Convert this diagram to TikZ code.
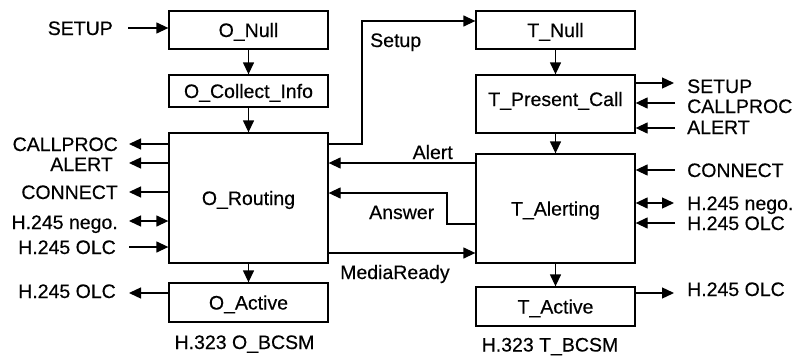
\documentclass[tikz,border=0pt]{standalone}
\usepackage{fontspec}
\setmainfont[FakeBold=0.4,AutoFakeBold=0]{Liberation Sans}
\usetikzlibrary{arrows.meta}
\begin{document}
\begin{tikzpicture}[x=1pt,y=-1pt,
  txt/.style={font=\fontsize{19.5}{22}\selectfont, inner sep=0pt, text height=14pt, text depth=0pt},
  box/.style={draw, line width=1.3pt, txt, minimum width=159pt},
  tip/.tip={Triangle[length=12pt,width=11pt]},
  wire/.style={line width=1.3pt},
  arr/.style={wire, -tip},
  dbl/.style={wire, tip-tip}]
\useasboundingbox[fill=white] (0,0) rectangle (795,356);

% originating side states
\node[box, minimum height=38pt] (onull) at (248.5,30) {O\_Null};
\node[box, minimum height=32pt] (ocoll) at (248.5,91) {O\_Collect\_Info};
\node[box, minimum height=130pt] (orout) at (248.5,198) {O\_Routing};
\node[box, minimum height=39pt] (oact) at (248.5,302.5) {O\_Active};
\node[txt] (ocap) at (244.5,342) {H.323 O\_BCSM};

% terminating side states
\node[box, minimum height=38pt] (tnull) at (555.5,30) {T\_Null};
\node[box, minimum height=58pt] (tpres) at (555.5,104) {\raisebox{5pt}{T\_Present\_Call}};
\node[box, minimum height=109pt] (talert) at (555.5,208.5) {T\_Alerting};
\node[box, minimum height=39pt] (tact) at (555.5,306.5) {T\_Active};
\node[txt] (tcap) at (550,344.5) {H.323 T\_BCSM};

% state transitions
\draw[arr] (onull) -- (ocoll);
\draw[arr] (ocoll) -- (orout);
\draw[arr] (orout) -- (oact);
\draw[arr] (tnull) -- (tpres);
\draw[arr] (tpres) -- (talert);
\draw[arr] (talert) -- (tact);

% messages between the two half calls
\coordinate (sbend) at (362,21);
\draw[arr] (orout.east |- 0,144) -| (sbend) -- (tnull.west |- sbend);
\node[txt, anchor=west] (lsetup) at (370,40) {Setup};
\draw[arr] (talert.west |- 0,163) -- (orout.east |- 0,163);
\node[txt, anchor=east] (lalert) at (453,152) {Alert};
\coordinate (abend) at (447,193);
\draw[arr] (talert.west |- 0,224) -| (abend) -- (orout.east |- abend);
\node[txt, anchor=west] (lanswer) at (369,212) {Answer};
\draw[arr] (orout.east |- 0,253) -- (talert.west |- 0,253);
\node[txt, anchor=west] (lmedia) at (340,272) {MediaReady};

% originating side signalling
\node[txt, anchor=east] (osetup) at (113,28) {SETUP};
\coordinate (e0) at (128,28);
\draw[arr] (e0) -- (onull.west |- e0);
\node[txt, anchor=east] (ocp) at (118,144) {CALLPROC};
\coordinate (e1) at (129,144);
\draw[arr] (orout.west |- e1) -- (e1);
\node[txt, anchor=east] (oal) at (113,164) {ALERT};
\coordinate (e2) at (129,163);
\draw[arr] (orout.west |- e2) -- (e2);
\node[txt, anchor=east] (ocn) at (118,192) {CONNECT};
\coordinate (e3) at (129,192);
\draw[arr] (orout.west |- e3) -- (e3);
\node[txt, anchor=east] (ong) at (118,222) {H.245 nego.};
\coordinate (e4) at (129,221);
\draw[dbl] (e4) -- (orout.west |- e4);
\node[txt, anchor=east] (ool) at (116,247) {H.245 OLC};
\coordinate (e5) at (129,247);
\draw[arr] (e5) -- (orout.west |- e5);
\node[txt, anchor=east] (oaol) at (116,291) {H.245 OLC};
\coordinate (e6) at (129,293);
\draw[arr] (oact.west |- e6) -- (e6);

% terminating side signalling
\node[txt, anchor=west] (tsetup) at (687,86) {SETUP};
\coordinate (r1) at (674,83);
\draw[arr] (tpres.east |- r1) -- (r1);
\node[txt, anchor=west] (tcp) at (687,106) {CALLPROC};
\coordinate (r2) at (675,103);
\draw[arr] (r2) -- (tpres.east |- r2);
\node[txt, anchor=west] (tal) at (687,127) {ALERT};
\coordinate (r3) at (675,128);
\draw[arr] (r3) -- (tpres.east |- r3);
\node[txt, anchor=west] (tcn) at (687,170) {CONNECT};
\coordinate (r4) at (675,170);
\draw[arr] (r4) -- (talert.east |- r4);
\node[txt, anchor=west] (tng) at (687,203) {H.245 nego.};
\coordinate (r5) at (674,203);
\draw[dbl] (talert.east |- r5) -- (r5);
\node[txt, anchor=west] (tol) at (687,223) {H.245 OLC};
\coordinate (r6) at (675,223);
\draw[arr] (r6) -- (talert.east |- r6);
\node[txt, anchor=west] (taol) at (687,289) {H.245 OLC};
\coordinate (r7) at (674,293);
\draw[arr] (tact.east |- r7) -- (r7);
\end{tikzpicture}
\end{document}
